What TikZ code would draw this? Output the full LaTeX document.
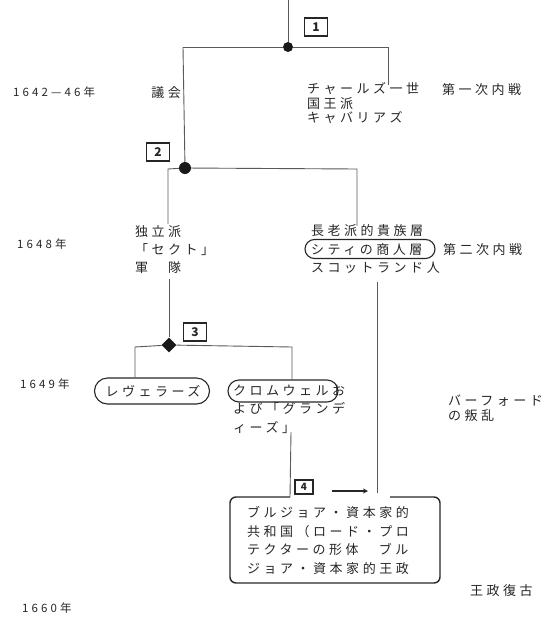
\documentclass[tikz,border=0pt]{standalone}
\usepackage{fontspec}
\usetikzlibrary{shapes.geometric,shapes.misc,arrows.meta}
\newfontfamily\jpfam{Noto Sans CJK JP}[LetterSpace=27]
\newfontfamily\numfam{Noto Sans CJK JP}
\newcommand\jptext{\jpfam\fontsize{13}{18}\selectfont}
\newcommand\yeartext{\jpfam\fontsize{11.5}{14}\selectfont}
\begin{document}
\begin{tikzpicture}[x=1pt,y=-1pt,
  conn/.style={draw=black!65, line width=0.9pt},
  lbl/.style={anchor=base west, inner sep=0pt, font=\jptext, align=left, text=black!85},
  mlbl/.style={anchor=north west, inner sep=0pt, align=left, text=black!85},
  yr/.style={anchor=base west, inner sep=0pt, font=\yeartext, text=black!85},
  numbox/.style={draw=black!85, line width=1.4pt, inner sep=0pt, minimum width=23pt, minimum height=18pt, font=\numfam\bfseries\fontsize{12}{12}\selectfont, text=black!85},
  junc/.style={circle, fill=black!90, inner sep=0pt, minimum size=10pt},
  pill/.style={draw=black!85, line width=1.1pt, rounded rectangle, inner sep=0pt},
  boxline/.style={draw=black!85, line width=1.4pt, rounded corners=6pt}
]
\useasboundingbox (0,0) rectangle (546,619);

% junctions
\coordinate (top) at (288,0);
\node[junc] (d1) at (288,47) {};
\node[junc, minimum size=12pt] (d2) at (185,168) {};
\node[diamond, fill=black!90, inner sep=0pt, minimum size=15pt] (d3) at (169,345) {};

% number boxes
\node[numbox] (n1) at (316,27) {1};
\node[numbox] (n2) at (158,152) {2};
\node[numbox] (n3) at (195,332) {3};
\node[numbox, minimum width=18pt, minimum height=14pt, font=\numfam\bfseries\fontsize{10}{10}\selectfont] (n4) at (304,487) {4};

% texts
\node[yr] (y1) at (13,96) {1642—46年};
\node[lbl, anchor=base east] (gikai) at (181,97) {議会};
\node[mlbl, font=\jpfam\fontsize{13}{14.5}\selectfont] (king) at (307,82.5) {チャールズ一世\\国王派\\キャバリアズ};
\node[lbl] (war1) at (442,94) {第一次内戦};

\node[yr] (y2) at (17,248) {1648年};
\node[mlbl, font=\jpfam\fontsize{13}{18}\selectfont] (indep) at (135,225.5) {独立派\\「セクト」\\軍　隊};
\node[mlbl, font=\jpfam\fontsize{13}{18.5}\selectfont] (presb) at (311,224.5) {長老派的貴族層\\シティの商人層\\スコットランド人};
\node[pill, minimum width=130pt, minimum height=19pt] (cityring) at (370,249) {};
\node[lbl] (war2) at (443,254) {第二次内戦};

\node[yr] (y3) at (20,388) {1649年};
\node[inner sep=0pt, font=\jptext, text=black!85] (lev) at (153,391) {レヴェラーズ};
\node[pill, minimum width=115pt, minimum height=26pt] (levring) at (152,391) {};
\node[mlbl, font=\jpfam\fontsize{13}{18.5}\selectfont] (crom) at (233,384.5) {クロムウェルお\\よび「グランデ\\ィーズ」};
\node[pill, minimum width=110pt, minimum height=22pt] (cromring) at (283,391) {};
\node[mlbl, font=\jpfam\fontsize{13}{15}\selectfont] (burf) at (448,394.5) {バーフォード\\の叛乱};

\node[mlbl, font=\jpfam\fontsize{13}{18.5}\selectfont] (rep) at (247,506.5) {ブルジョア・資本家的\\共和国（ロード・プロ\\テクターの形体　ブル\\ジョア・資本家的王政};
\node[lbl] (resto) at (470,595) {王政復古};
\node[yr] (y4) at (22,612) {1660年};

% box 4 outline
\coordinate (bL) at (290,497);
\coordinate (bR) at (390,497);
\draw[boxline] (bL) -- (230,497) -- (230,583) -- (440,583) -- (440,497) -- (bR);
\coordinate (a4s) at (332,491);
\coordinate (a4e) at (368,491);
\draw[black!85, line width=1.3pt, -{Stealth[length=5pt,width=5pt]}] (a4s) -- (a4e);

% connectors
\coordinate (c1L) at (183,47);
\coordinate (c1R) at (388,47);
\coordinate (c1Re) at (388,85);
\draw[conn] (top) -- (d1);
\draw[conn] (c1L) -- (d1) -- (c1R) -- (c1Re);
\draw[conn] (c1L) -- (d2);

\coordinate (c2L) at (168,169);
\coordinate (c2Le) at (168,224);
\coordinate (c2R) at (357,169);
\coordinate (c2Re) at (357,226);
\draw[conn] (c2Le) -- (c2L) -- (d2) -- (c2R) -- (c2Re);

\coordinate (c3T) at (169,279);
\draw[conn] (c3T) -- (d3);
\coordinate (c3L) at (135,347);
\coordinate (c3R) at (292,347);
\draw[conn] (levring.north -| c3L) -- (c3L) -- (d3) -- (c3R) -- (cromring.north -| c3R);

\coordinate (cr1) at (291,432);
\draw[conn] (cr1) -- (bL);
\coordinate (ct1) at (377,282);
\coordinate (ct2) at (377,493);
\draw[conn] (ct1) -- (ct2);
\end{tikzpicture}
\end{document}
